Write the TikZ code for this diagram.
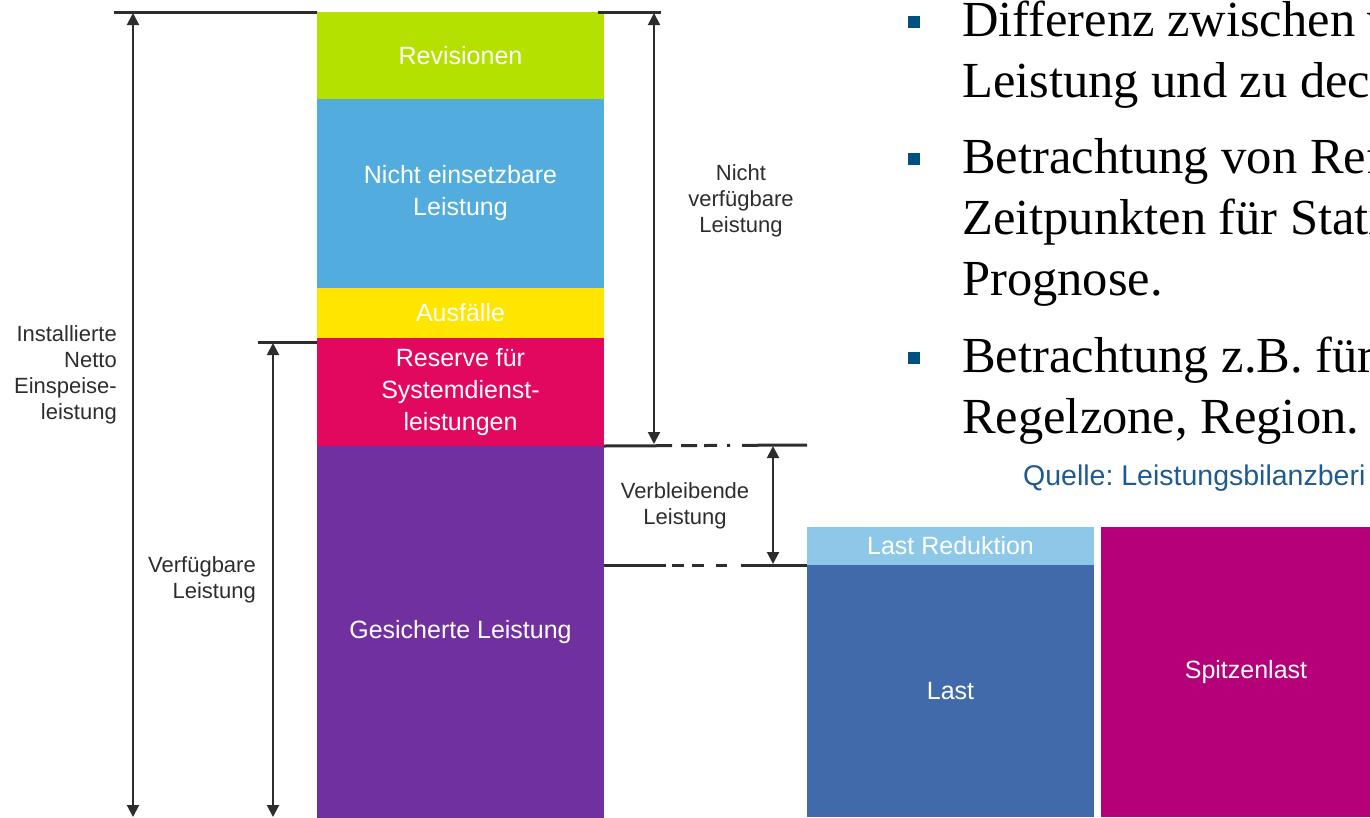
\documentclass[tikz,border=0pt]{standalone}
\usepackage{fontspec}
\setmainfont{Liberation Serif}
\setsansfont{Liberation Sans}
\usetikzlibrary{arrows.meta}
\frenchspacing
\definecolor{cRev}{RGB}{181,225,0}
\definecolor{cNicht}{RGB}{82,172,221}
\definecolor{cAus}{RGB}{255,230,0}
\definecolor{cRes}{RGB}{226,8,95}
\definecolor{cGes}{RGB}{112,48,160}
\definecolor{cLR}{RGB}{142,200,232}
\definecolor{cLast}{RGB}{65,106,170}
\definecolor{cSpitz}{RGB}{181,0,122}
\definecolor{cLine}{RGB}{45,45,45}
\definecolor{cBullet}{RGB}{0,80,130}
\definecolor{cSrc}{RGB}{31,90,145}
\tikzset{
  bar/.style={rectangle, inner sep=0pt, outer sep=0pt, draw=none, text=white,
    align=center, font=\sffamily\fontsize{25}{32}\selectfont},
  lbl/.style={inner sep=0pt, text=cLine, font=\sffamily\fontsize{22}{26}\selectfont},
  tick/.style={draw=cLine, line width=3pt},
  dim/.style={draw=cLine, line width=2pt, {Triangle[length=12pt,width=12pt]}-{Triangle[length=12pt,width=12pt]}},
  bul/.style={fill=cBullet, minimum size=12pt, inner sep=0pt},
  btxt/.style={anchor=base west, inner sep=0pt, font=\fontsize{50.5}{61}\selectfont},
}
\begin{document}
\begin{tikzpicture}[x=1pt,y=-1pt]
\useasboundingbox (0,0) rectangle (1370,817);
\clip (0,0) rectangle (1370,817);
% main stacked bar
\node[bar, fill=cRev, minimum width=287pt, minimum height=87pt] (rev) at (460.5,55.5) {Revisionen};
\node[bar, fill=cNicht, minimum width=287pt, minimum height=189pt] (nicht) at (460.5,193.5) {Nicht einsetzbare\\Leistung};
\node[bar, fill=cAus, minimum width=287pt, minimum height=50pt] (aus) at (460.5,313) {Ausfälle};
\node[bar, fill=cRes, minimum width=287pt, minimum height=108pt] (res) at (460.5,392) {Reserve für\\Systemdienst-\\leistungen};
\node[bar, fill=cGes, minimum width=287pt, minimum height=372pt] (ges) at (460.5,632) {Gesicherte Leistung};
% load bars
\node[bar, fill=cLR, minimum width=287pt, minimum height=38pt] (lr) at (950.5,546) {Last Reduktion};
\node[bar, fill=cLast, minimum width=287pt, minimum height=252pt] (last) at (950.5,691) {Last};
\node[bar, fill=cSpitz, minimum width=290pt, minimum height=290pt] (spitz) at (1246,672) {Spitzenlast};
% ticks
\coordinate (tl1) at (114,12);
\draw[tick] (tl1) -- (rev.north west);
\coordinate (tr2) at (661,12);
\draw[tick] ([xshift=-6pt]rev.north east) -- (tr2);
\coordinate (vt1) at (258,342);
\draw[tick] (vt1) -- (vt1 -| res.west);
\coordinate (d1e) at (807,445);
\draw[tick, dash pattern=on 68pt off 9pt on 16pt off 7pt on 13pt off 10pt on 3pt off 12pt on 70pt] (res.south east) -- (d1e);
\coordinate (d2s) at (604,565);
\draw[tick, dash pattern=on 62pt off 6pt on 12pt off 8pt on 12pt off 12pt on 11pt off 14pt on 70pt] (d2s) -- (lr.south west);
% dimension arrows
\coordinate (a1t) at (133,13);
\coordinate (a1b) at (133,817);
\draw[dim] (a1t) -- (a1b);
\coordinate (a2t) at (273,343);
\coordinate (a2b) at (273,817);
\draw[dim] (a2t) -- (a2b);
\coordinate (a3t) at (654,13);
\coordinate (a3b) at (654,444);
\draw[dim] (a3t) -- (a3b);
\coordinate (a4t) at (773,446);
\coordinate (a4b) at (773,564);
\draw[dim] (a4t) -- (a4b);
% labels
\node[lbl, align=right, anchor=east] (inst) at (117,375) {Installierte\\Netto\\Einspeise-\\leistung};
\node[lbl, align=right, anchor=east] (verf) at (256,580) {Verfügbare\\Leistung};
\node[lbl, align=center] (nv) at (741,201) {Nicht\\verfügbare\\Leistung};
\node[lbl, align=center] (vb) at (685,506) {Verbleibende\\Leistung};
% bullet text
\node[bul] (b1) at (914,22) {};
\node[bul] (b2) at (914,159) {};
\node[bul] (b3) at (914,358) {};
\node[btxt] (t1) at (962,36) {Differenz zwischen v};
\node[btxt] (t2) at (962,97) {Leistung und zu deck};
\node[btxt] (t3) at (962,173) {Betrachtung von Ref};
\node[btxt] (t4) at (962,234) {Zeitpunkten für Stati};
\node[btxt] (t5) at (962,295) {Prognose.};
\node[btxt] (t6) at (962,372) {Betrachtung z.B. für};
\node[btxt] (t7) at (962,433) {Regelzone, Region.};
\node[anchor=base west, inner sep=0pt, text=cSrc, font=\sffamily\fontsize{28.5}{32}\selectfont] (src) at (1023,485) {Quelle: Leistungsbilanzberi};
\end{tikzpicture}
\end{document}
